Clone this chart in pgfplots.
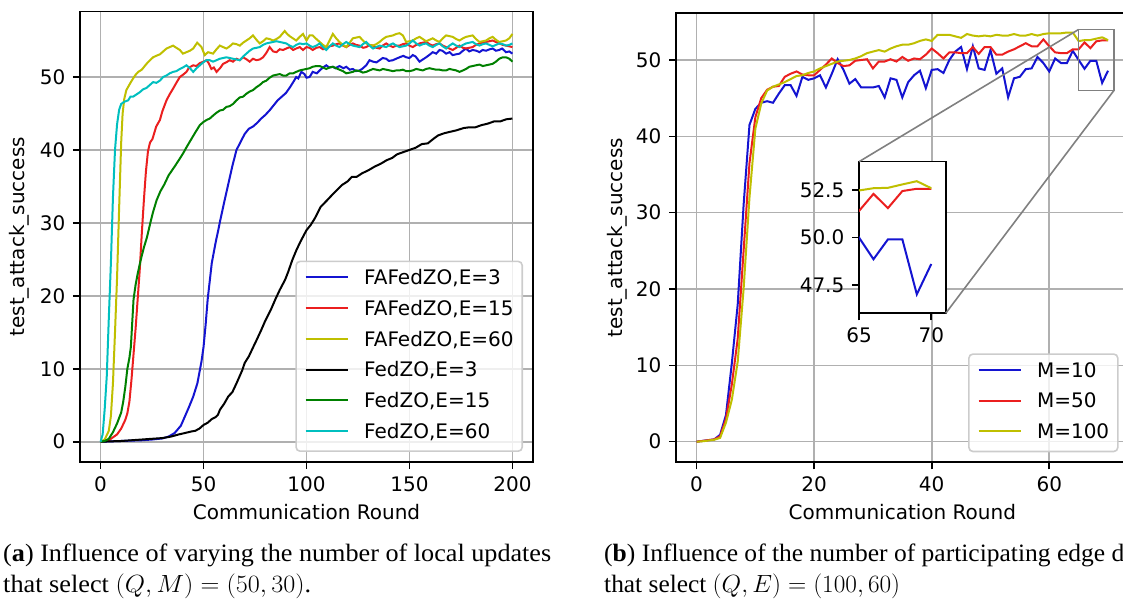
\documentclass[border=0pt]{standalone}
\usepackage{fontspec}
\setmainfont{DejaVu Sans}
\newfontfamily\capfont{Liberation Serif}
\usepackage{graphicx}
\usepackage{pgfplots}
\pgfplotsset{compat=1.18}
\usepackage{pgfplotstable}

\definecolor{mb}{rgb}{0.08,0.08,0.82}
\definecolor{mr}{rgb}{0.92,0.12,0.12}
\definecolor{my}{rgb}{0.75,0.75,0}
\definecolor{mg}{rgb}{0,0.5,0}
\definecolor{mc}{rgb}{0,0.75,0.75}
\definecolor{gridc}{rgb}{0.69,0.69,0.69}
\definecolor{legc}{rgb}{0.8,0.8,0.8}
\definecolor{insc}{rgb}{0.5,0.5,0.5}

% ---------- left panel data ----------
\pgfplotstableread{
x y
0 0
5 0.05
10 0.1
15 0.15
20 0.2
25 0.3
30 0.45
33 0.7
36 1.2
39 2.2
41 3.5
43 4.8
45 6.2
47 8.0
49 11
50 13
51 16
52 19.5
53 22
54 24.5
55 26
56 27.5
57 28.8
58 30.2
60 32.8
62 35.3
64 37.8
66 40
68 41.1
70 42.2
72 42.9
74 43.2
76 43.7
78 44.3
80 44.8
82 45.4
84 46.1
86 46.8
88 47.3
90 47.8
92 48.6
94 49.5
95 50.0
96 49.8
97.5 50.7
99 50.4
100 49.9
101.5 50.0
103 50.7
105 50.5
106.4 50.9
108 51.3
109.6 51.6
111 51.3
112.8 51.4
114 51.2
116 51.5
118 51.2
119.3 51.4
121 51.0
122.5 51.1
124 50.8
125.8 50.9
127 51.1
129 51.6
130.6 52.3
132.3 52.1
134 52.0
135.5 52.3
137 52.6
138.7 52.5
140 52.2
142 52.3
143.5 52.5
145.2 52.7
147 52.9
148.4 52.7
150 52.6
151.6 53.0
153 52.8
154.9 52.1
156.5 52.4
158.1 52.7
160 53.1
161.3 53.4
163 53.2
164.6 53.7
166 53.6
167.8 53.2
169.5 53.4
171 53.0
172.5 53.1
174.3 53.2
176 53.6
177.5 53.9
179 53.5
180.7 53.7
182.5 53.6
184 53.4
185.5 53.7
187.2 53.6
189 53.8
190.4 53.9
192 53.6
193.6 53.7
195 53.9
196.9 53.4
198.5 53.5
200 53.2
}\LBlue

\pgfplotstableread{
x y
0 0
4 0.2
8 1.0
10 1.8
12 3.0
13 3.9
14 5.5
15 8.5
16 12
17 15.5
18 19.5
19 23.5
20 28.5
21 33
22 37
23 39.8
24 41.0
25.2 41.5
27 43.2
28.8 44.1
30 45.3
32 46.8
33.5 47.6
35.2 48.4
37 49.3
38.5 50.0
40 50.3
41.7 50.7
43 51.3
45 51.6
46.5 51.5
48.2 51.9
50 52.1
51.4 52.3
52.5 51.9
53.8 51.1
55 51.3
56.3 50.7
58 51.2
59.5 51.8
61 52.0
62.7 52.3
64.3 52.1
66 52.5
67.6 52.3
69.2 52.7
71 52.4
72.4 52.1
74 52.5
75.7 52.3
77.3 52.4
78.9 52.7
80.5 53.3
82.1 54.1
83.8 53.5
85.4 53.4
87 53.8
88.6 53.7
90.2 53.9
91.8 54.1
93.5 53.7
95 53.9
96.7 54.1
98.3 53.7
100 54.1
101.5 54.0
103 53.7
104.8 54.0
106.4 54.1
108 53.8
109.6 53.9
111 54.2
112.8 54.3
114.5 54.5
116 54.6
117.7 54.3
119.3 54.1
121 54.4
122.5 54.6
124 54.4
125.8 54.3
127.5 54.0
129 54.1
130.6 54.4
132.3 54.3
134 54.0
135.5 53.9
137 54.3
138.7 54.6
140.4 54.3
142 54.1
143.6 54.3
145.2 54.3
146.8 54.5
148.4 54.6
150 54.3
151.6 54.1
153.3 54.4
154.9 54.6
156.5 54.7
158.1 54.8
159.7 54.5
161.3 54.3
163 54.5
164.6 54.6
166.2 54.3
167.8 54.1
169.4 53.9
171 53.7
172.7 54.0
174.3 54.3
176 54.0
177.5 53.9
179 54.0
180.7 54.1
182.3 54.4
184 54.6
185.6 54.7
187.2 54.8
188.8 54.9
190.4 55.0
192 54.8
193.6 54.6
195.3 54.4
196.9 54.3
198.5 54.2
200 54.1
}\LRed

\pgfplotstableread{
x y
0 0
2 0.3
4 1.5
5 3.5
6 8
7 15
8 22.5
9 32
10 41
10.7 45
11.5 47
12.5 48.2
13.5 48.7
14.5 49.2
15.8 49.8
17 50.3
18.3 50.7
20 51.0
22.3 51.8
24 52.3
25.5 52.7
27 52.9
28.8 53.1
30.4 53.5
32 53.9
33.6 54.1
35.2 54.3
36.8 54.0
38.5 53.7
40 53.2
41.7 53.4
43.4 53.6
45 53.9
46.9 54.7
49 54.1
50.6 53.0
52.2 53.4
54.6 53.2
56.3 53.8
57.9 54.3
59.5 54.1
61.1 53.9
62.7 54.2
64.3 54.6
66 54.5
67.6 54.3
69.2 54.7
70.8 55.0
72.4 55.3
74 55.7
75.7 55.1
77.3 54.6
78.9 54.9
80.5 55.3
82.1 55.2
83.8 55.0
85.4 55.2
87 55.5
88.2 55.9
89.4 56.3
90.6 55.9
91.8 55.6
93.4 55.3
95 55.0
96.7 55.5
98.3 55.9
100 55.0
101.5 55.7
103 55.7
104.8 55.2
106.4 54.8
108 54.4
109.6 54.1
111.2 55.0
112.8 55.9
114.4 55.3
116 54.8
117.7 54.4
119.3 54.1
121 54.7
122.5 55.3
124.1 55.4
125.8 55.5
127.4 55.0
129 54.6
130.6 54.4
132.3 54.3
133.9 54.5
135.5 54.8
137.1 55.2
138.7 55.5
140.4 55.6
142 55.7
143.6 55.9
145.2 56.0
146.8 55.7
148.4 54.8
150 54.9
151.6 55.0
153.3 55.3
154.9 55.5
156.5 55.2
158.1 54.9
159.7 55.1
161.3 55.3
163 55.0
164.6 54.8
166.2 55.3
167.8 55.7
169.4 55.6
171 55.5
172.7 55.2
174.3 55.0
176 55.3
177.5 55.5
179.1 55.6
180.7 55.7
182.3 55.2
184 54.8
185.6 54.9
187.2 55.0
188.8 55.3
190.4 55.5
192 55.1
193.6 54.8
195.3 54.9
196.9 55.0
198.5 55.3
200 55.9
}\LYellow

\pgfplotstableread{
x y
0 0
10 0.1
20 0.3
25 0.4
30 0.5
34.1 0.7
38 1.0
41.1 1.2
44 1.4
46 1.5
48 1.8
50 2.3
52 2.6
54 3.1
56 3.4
57 3.7
58 4.4
60 5.2
62 6.2
64 6.8
66 8.0
68.8 9.8
70 10.8
72 11.7
74 12.9
75.7 13.9
78 15.3
80 16.6
82.7 18.1
85 19.6
87 20.8
89.6 22.2
91 23.2
93.1 24.9
95 26.2
97 27.4
100 29.0
102 29.7
104 30.6
106.9 32.2
110 33.1
113 34.0
117.3 35.2
120 35.7
122 36.3
124.3 36.3
127 36.8
130 37.2
133 37.7
136 38.1
139 38.6
141.6 38.9
144 39.4
147 39.7
150 40.0
153 40.3
156 40.8
158.9 40.9
162 41.6
164 42.0
167 42.3
170 42.5
173 42.7
176.3 43.0
179 43.1
182 43.1
185 43.4
188 43.6
191 43.9
194 43.9
197 44.2
200 44.3
}\LBlack

\pgfplotstableread{
x y
0 0
2 0.1
4 0.4
6 1.3
8 2.5
10 4.0
11 5.5
12 7.5
13 10
14 11.5
14.7 13
15.5 17
16 19.5
17 21.5
18 23
19 24.3
20 25.5
21.1 26.7
22.5 28
24 29.8
25.5 31.5
27.2 33.1
29 34.3
31 35.3
33 36.5
35.9 37.7
38 38.6
40 39.5
42 40.5
44.1 41.5
46 42.4
48.2 43.4
49.8 43.8
51.4 44.1
53 44.3
54.6 44.7
56.3 45.1
57.9 45.4
59.5 45.5
61.1 45.9
62.7 46.0
64.3 46.3
66 46.8
67.6 47.2
69.2 47.3
70.8 47.7
72.4 48.0
74 48.2
75.7 48.6
77.3 48.9
78.9 49.3
80.5 49.5
82.1 49.9
83.8 50.2
85.4 50.3
87 50.4
88.6 50.2
90.2 50.2
91.8 50.5
93.5 50.5
95 50.7
96.7 50.9
98.3 51.0
100 51.1
101.5 51.2
103 51.4
104.8 51.5
106.4 51.5
108 51.3
109.6 51.1
111.2 51.3
112.8 51.4
114.4 51.2
116 51.0
117.7 50.8
119.3 50.5
121 50.6
122.5 50.7
124.1 50.9
125.8 50.8
127.4 50.6
129 50.7
130.6 50.9
132.3 51.1
133.9 51.0
135.5 50.9
137.1 51.1
138.7 51.0
140.4 50.9
142 50.8
143.6 50.9
145.2 50.9
146.8 51.0
148.4 50.8
150 50.8
151.6 50.9
153.3 51.1
154.9 51.0
156.5 50.9
158.1 51.1
159.7 51.2
161.3 51.1
163 51.0
164.6 51.0
166.2 50.9
167.8 50.9
169.4 51.1
171 51.0
172.7 50.9
174.3 50.7
176 50.9
177.5 51.1
179.1 51.4
180.7 51.5
182.3 51.6
184 51.7
185.6 51.5
187.2 51.6
188.8 51.7
190.4 51.8
192 52.1
193.6 52.5
195.3 52.7
196.9 52.7
198.5 52.5
200 52.1
}\LGreen

\pgfplotstableread{
x y
0 0
1 1.0
2 4.5
3 9
4 17
5 24.5
6 33.5
7 40
8 43.5
9 45.5
10 46.3
11.5 46.6
13.4 46.8
14.5 47.3
15.8 47.3
17.4 47.6
19 47.9
20.6 48.3
22.3 48.5
23.9 48.9
25.5 49.3
27.1 49.2
28.8 49.5
30.4 50.0
32 50.2
33.6 50.5
35.2 50.7
36.8 50.8
38.5 51.1
40 51.3
41.7 51.6
43.4 51.2
45 50.7
46.6 51.2
48.2 51.6
49.8 52.0
51.4 52.3
53 52.3
54.6 52.1
56.3 52.3
57.9 52.5
59.5 52.6
61.1 52.7
62.7 52.6
64.3 52.5
66 52.4
67.6 52.3
69.2 52.8
70.8 53.2
72.4 53.6
74 53.9
75.7 54.0
77.3 54.1
78.9 54.4
80.5 54.6
82.1 54.7
83.8 54.8
85.4 54.9
87 54.8
88.6 54.7
90.2 54.6
91.8 54.3
93.5 54.1
95 54.4
96.7 54.6
98.3 54.5
100 54.6
101.5 54.3
103 54.1
104.8 54.3
106.4 54.6
108 54.1
109.6 53.7
111.2 54.2
112.8 54.6
114.4 54.3
116 54.1
117.7 54.5
119.3 54.8
121 54.5
122.5 54.3
124.1 54.2
125.8 54.1
127.4 54.5
129 54.8
130.6 54.3
132.3 53.9
133.9 54.1
135.5 54.3
137.1 54.2
138.7 54.1
140.4 54.4
142 54.6
143.6 54.3
145.2 54.1
146.8 54.2
148.4 54.3
150 54.6
151.6 55.0
153.3 54.6
154.9 54.3
156.5 54.5
158.1 54.6
159.7 54.3
161.3 54.1
163 54.4
164.6 54.6
166.2 54.2
167.8 53.9
169.4 54.3
171 54.6
172.7 54.3
174.3 54.1
176 54.4
177.5 54.6
179.1 54.7
180.7 54.8
182.3 54.5
184 54.3
185.6 54.5
187.2 54.6
188.8 54.4
190.4 54.2
192 54.4
193.6 54.6
195.3 54.5
196.9 54.3
198.5 54.4
200 54.6
}\LCyan

% ---------- right panel data ----------
\pgfplotstableread{
x y
0 0
1 0.1
2 0.2
3 0.3
4 0.9
5 3.5
6 10.3
7 18
8 31
9 41.5
10 43.6
11 44.4
12 44.6
13 44.4
14 45.6
15 46.7
16 46.7
17 45.3
18 47.8
19 47.4
20 47.6
21 48.0
22 46.4
23 48.2
24 50.1
25 48.7
26 46.9
27 47.5
28 46.4
29 46.4
30 46.4
31 46.6
32 45.1
33 47.6
34 47.4
35 45.1
36 47.1
37 48.0
38 48.6
39 46.3
40 48.7
41 48.8
42 48.3
43 50.0
44 51.1
45 51.7
46 48.8
47 51.8
48 48.9
49 48.7
50 51.3
51 48.2
52 48.9
53 45.1
54 47.6
55 47.8
56 48.8
57 48.9
58 50.4
59 49.6
60 48.5
61 50.2
62 49.6
63 49.6
64 51.2
65 50.0
66 48.85
67 49.9
68 49.9
69 47.0
70 48.6
}\RBlue

\pgfplotstableread{
x y
0 0
1 0.1
2 0.2
3 0.3
4 0.7
5 3.0
6 7.5
7 13.5
8 25
9 36.5
10 42.5
11 45
12 46.1
13 46.5
14 46.6
15 47.8
16 48.2
17 48.5
18 48.1
19 48.0
20 48.0
21 48.7
22 49.4
23 50.2
24 49.6
25 49.2
26 49.3
27 49.9
28 50.0
29 50.1
30 48.9
31 49.8
32 49.8
33 50.1
34 49.8
35 50.4
36 49.9
37 50.2
38 50.1
39 50.7
40 51.5
41 50.9
42 50.2
43 51.0
44 51.0
45 50.9
46 50.9
47 51.7
48 50.8
49 51.7
50 51.7
51 50.7
52 50.7
53 51.1
54 51.4
55 51.8
56 52.2
57 51.8
58 51.8
59 52.7
60 51.8
61 51.0
62 50.9
63 50.9
64 51.4
65 51.4
66 52.3
67 51.55
68 52.45
69 52.57
70 52.57
}\RRed

\pgfplotstableread{
x y
0 0
1 0.05
2 0.15
3 0.25
4 0.5
5 2.5
6 5.5
7 10.5
8 20
9 32
10 41
11 44.3
12 46.0
13 46.5
14 46.8
15 47.1
16 47.5
17 47.9
18 48.0
19 48.3
20 48.5
21 48.9
22 49.2
23 49.5
24 49.8
25 49.9
26 50.0
27 50.2
28 50.5
29 50.9
30 51.1
31 51.3
32 51.1
33 51.5
34 51.8
35 52.0
36 52.0
37 52.2
38 52.5
39 52.7
40 52.5
41 53.3
42 53.3
43 53.3
44 53.1
45 52.9
46 53.4
47 53.2
48 53.1
49 53.2
50 53.1
51 53.3
52 53.2
53 53.2
54 53.4
55 53.2
56 53.2
57 53.4
58 53.2
59 53.4
60 53.5
61 53.5
62 53.5
63 53.6
64 53.6
65 52.48
66 52.6
67 52.62
68 52.8
69 52.97
70 52.6
}\RYellow

\newcommand\CapA{{\capfont\fontsize{25}{30}\selectfont (\textbf{a}) Influence of varying the number of local updates}}
\newcommand\CapAA{{\capfont\fontsize{25}{30}\selectfont that select $(Q,M)=(50,30)$.}}
\newcommand\CapB{{\capfont\fontsize{25}{30}\selectfont (\textbf{b}) Influence of the number of participating edge devices}}
\newcommand\CapBB{{\capfont\fontsize{25}{30}\selectfont that select $(Q,E)=(100,60)$}}
\newlength\capw

\pgfplotsset{
  mpl/.style={
    scale only axis,
    tick pos=left,
    tick align=outside,
    major tick length=7pt,
    tick style={black, line width=1.6pt},
    axis line style={line width=1.6pt, black},
    tick label style={font=\fontsize{20}{24}\selectfont},
    /pgf/number format/assume math mode=true,
    xticklabel style={anchor=north, inner sep=0pt, yshift=-7.5pt},
    yticklabel style={anchor=east, inner sep=0pt, xshift=-7.5pt},
    label style={font=\fontsize{20}{24}\selectfont},
    xlabel style={at={(axis description cs:0.5,0)}, anchor=center, yshift=-49.7pt},
    legend cell align=left,
    legend image code/.code={\draw[##1, line width=2pt] (0pt,2.1pt) -- (42pt,2.1pt);},
    legend style={
      at={(1,0)}, anchor=south east, xshift=-10pt, yshift=10pt,
      draw=legc, line width=1.6pt, rounded corners=4pt,
      fill=white, fill opacity=0.8, text opacity=1,
      inner xsep=8.6pt, inner ysep=7.9pt,
      font=\fontsize{20}{24}\selectfont,
      row sep=10.8pt,
      nodes={inner sep=0pt, text height=15.2pt, text depth=4.8pt},
      /tikz/every odd column/.append style={column sep=15.5pt},
    },
  },
  gridded/.style={grid=major, major grid style={gridc, line width=1.6pt}},
}

\begin{document}
\begin{tikzpicture}
\path[use as bounding box] (0,0) rectangle (1123pt,601pt);
\clip (0,0) rectangle (1123pt,601pt);

% ---------- left panel ----------
\begin{axis}[mpl, gridded,
  at={(80pt,139pt)}, anchor=south west,
  width=453pt, height=450.3pt,
  xmin=-10, xmax=210, ymin=-2.78, ymax=58.95,
  xtick={0,50,100,150,200}, ytick={0,10,20,30,40,50},
  xlabel={Communication Round},
  ylabel={test\_attack\_success},
  ylabel style={at={(axis description cs:-0.1347,0.5)}, anchor=center},
]
\addplot[color=mb, line width=2pt] table {\LBlue};
\addlegendentry{FAFedZO,E=3}
\addplot[color=mr, line width=2pt] table {\LRed};
\addlegendentry{FAFedZO,E=15}
\addplot[color=my, line width=2pt] table {\LYellow};
\addlegendentry{FAFedZO,E=60}
\addplot[color=black, line width=2pt] table {\LBlack};
\addlegendentry{FedZO,E=3}
\addplot[color=mg, line width=2pt] table {\LGreen};
\addlegendentry{FedZO,E=15}
\addplot[color=mc, line width=2pt] table {\LCyan};
\addlegendentry{FedZO,E=60}
\end{axis}

% ---------- right panel ----------
\begin{axis}[mpl, gridded,
  at={(676pt,138.7pt)}, anchor=south west,
  width=452.6pt, height=449pt,
  xmin=-3.5, xmax=73.5, ymin=-2.7, ymax=56.12,
  xtick={0,20,40,60}, ytick={0,10,20,30,40,50},
  xlabel={Communication Round},
  ylabel={test\_attack\_success},
  ylabel style={at={(axis description cs:-0.1304,0.5)}, anchor=center},
]
\addplot[color=mb, line width=2pt] table {\RBlue};
\addlegendentry{M=10}
\addplot[color=mr, line width=2pt] table {\RRed};
\addlegendentry{M=50}
\addplot[color=my, line width=2pt] table {\RYellow};
\addlegendentry{M=100}
\draw[insc, line width=1.6pt] (axis cs:65,46) rectangle (axis cs:71,54);
\coordinate (zUL) at (axis cs:65,54);
\coordinate (zLR) at (axis cs:71,46);
\end{axis}

% ---------- inset ----------
\begin{axis}[mpl, name=ins,
  at={(859pt,287.7pt)}, anchor=south west,
  width=86.7pt, height=151.6pt,
  xmin=65, xmax=71, ymin=46, ymax=54,
  xtick={65,70}, ytick={47.5,50,52.5},
  yticklabel style={/pgf/number format/fixed, /pgf/number format/fixed zerofill, /pgf/number format/precision=1},
  axis background/.style={fill=white},
]
\addplot[color=mb, line width=2pt] table {\RBlue};
\addplot[color=mr, line width=2pt] table {\RRed};
\addplot[color=my, line width=2pt] table {\RYellow};
\end{axis}
\draw[insc, line width=1.6pt] (ins.north west) -- (zUL);
\draw[insc, line width=1.6pt] (ins.south east) -- (zLR);

% ---------- captions ----------
\node[anchor=base west, inner sep=0pt] at (3pt,39pt) {\resizebox{548pt}{\height}{\CapA}};
\node[anchor=base west, inner sep=0pt] at (3pt,8pt) {\resizebox{308pt}{\height}{\CapAA}};
\node[anchor=base west, inner sep=0pt] at (604pt,39pt) {\settowidth{\capw}{\CapA}\pgfmathsetmacro{\fx}{0.975*548/\capw}\scalebox{\fx}[1]{\CapB}};
\node[anchor=base west, inner sep=0pt] at (604pt,8pt) {\resizebox{296pt}{\height}{\CapBB}};
\end{tikzpicture}
\end{document}
